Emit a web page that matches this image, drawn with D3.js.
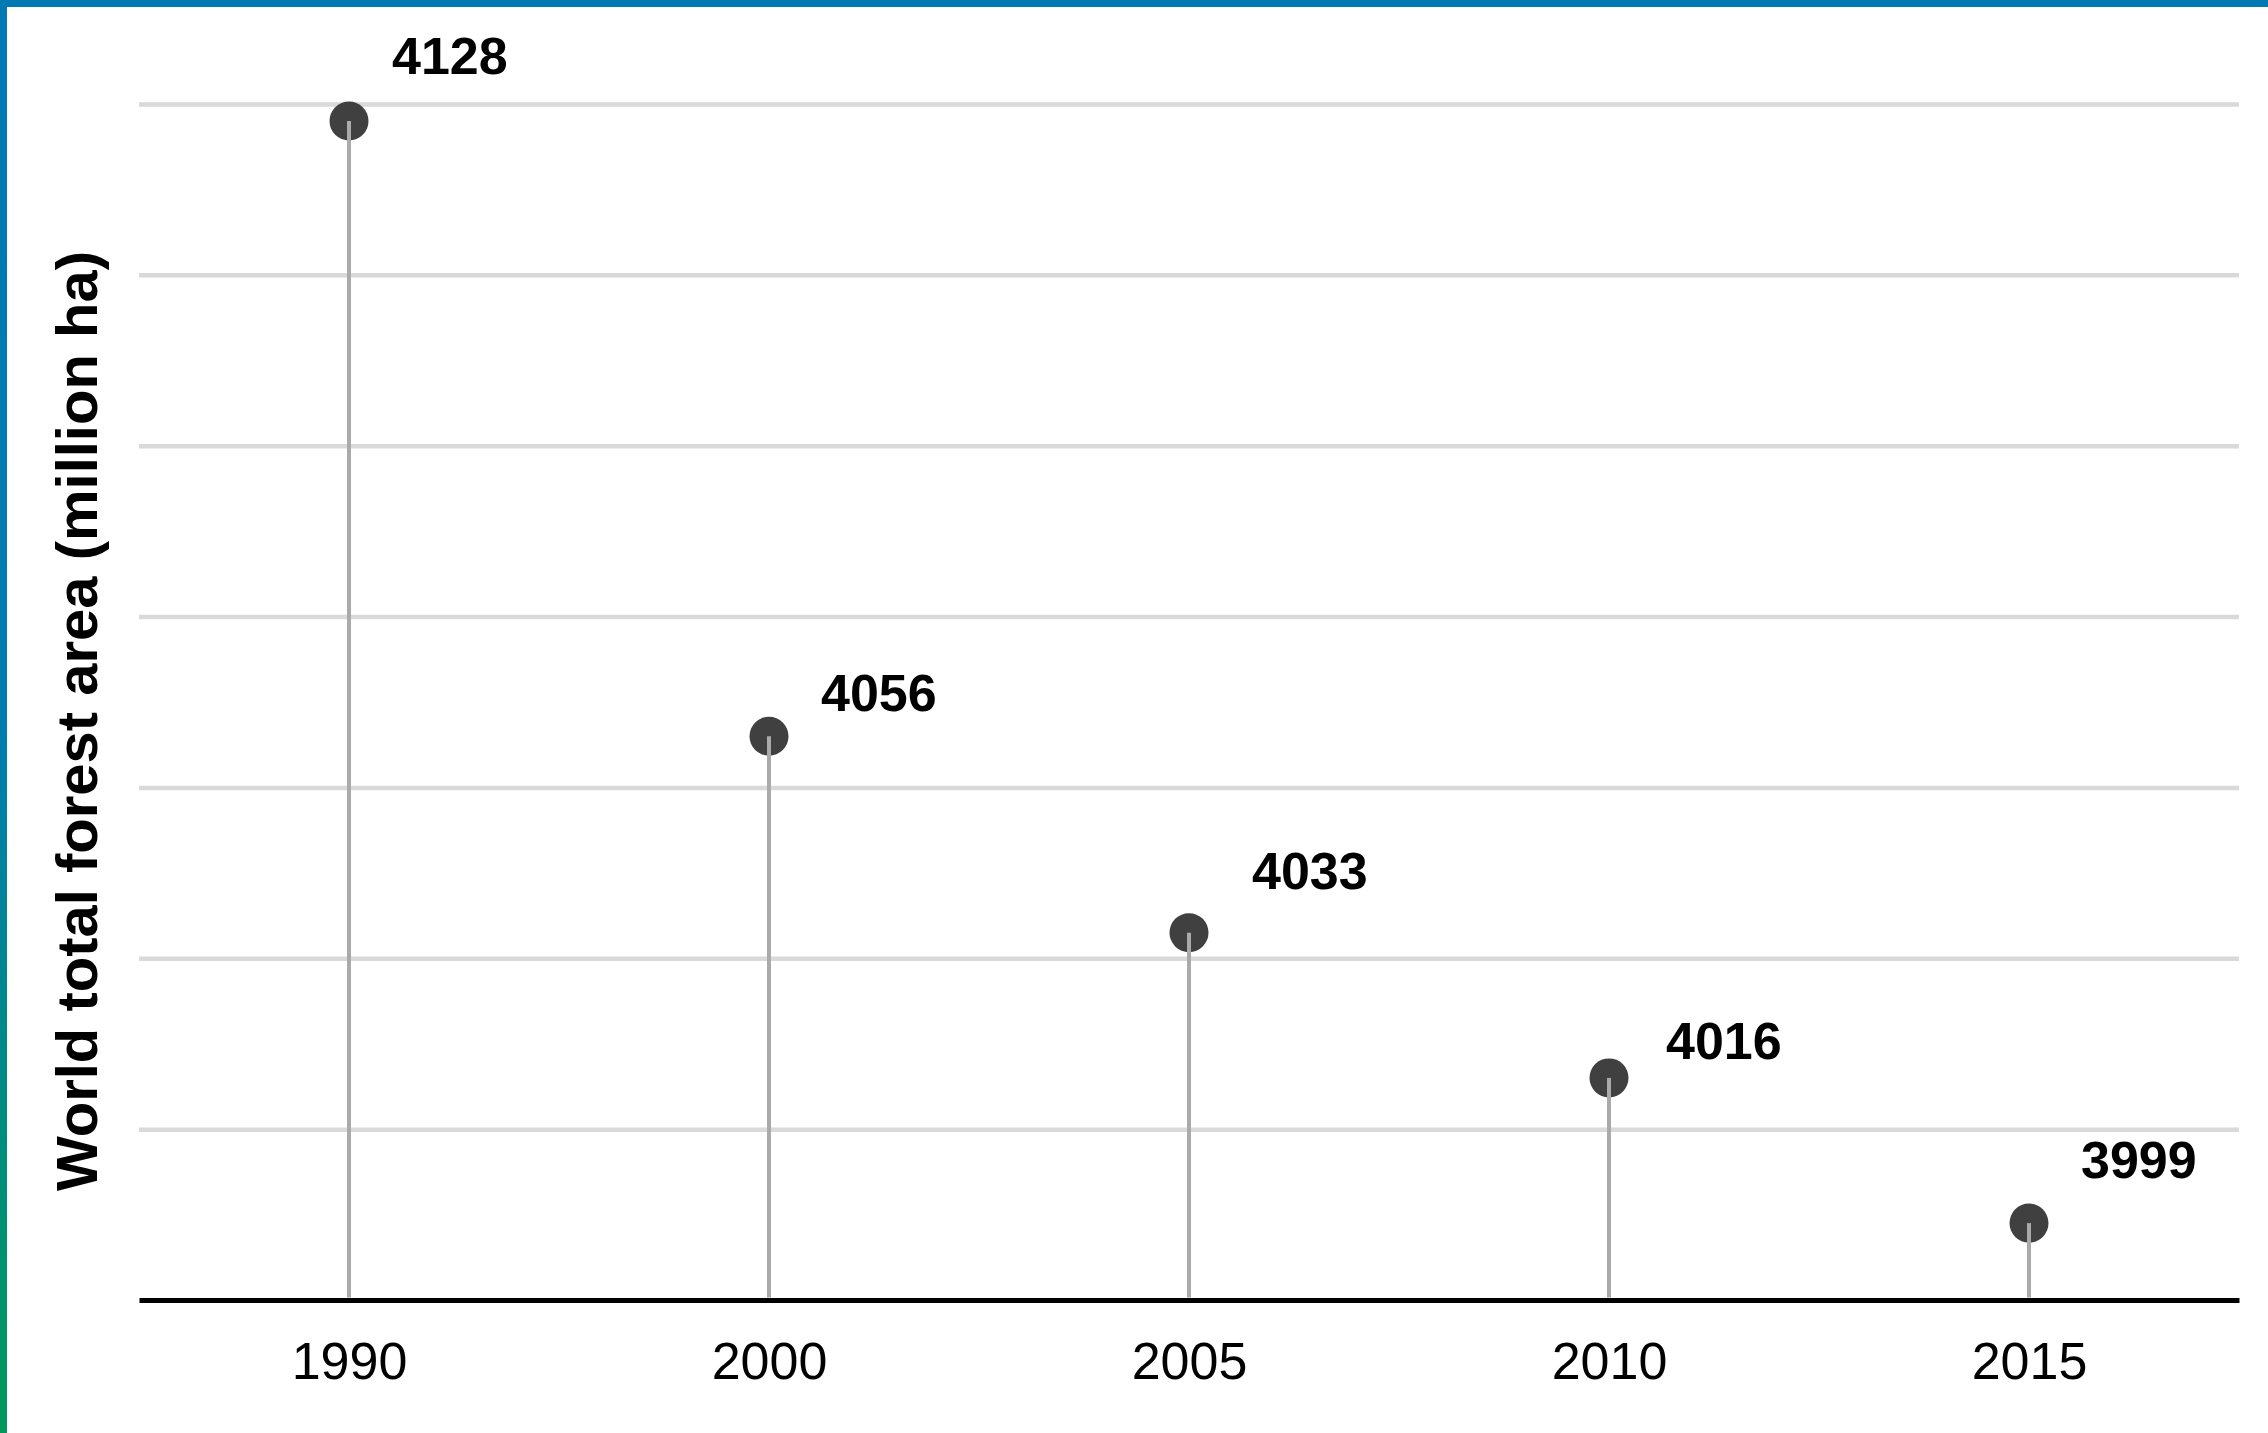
<!DOCTYPE html>
<html>
<head>
<meta charset="utf-8">
<script src="https://cdn.jsdelivr.net/npm/d3@7"></script>
<style>
  body { margin: 0; background: #fff; }
  svg { display: block; font-family: "Liberation Sans", Arial, sans-serif; }
</style>
</head>
<body>
<div id="chart"></div>
<script>
// data
const years = ["1990", "2000", "2005", "2010", "2015"];
const forestArea = [4128, 4056, 4033, 4016, 3999];
const yTicks = [4010, 4030, 4050, 4070, 4090, 4110, 4130];
const yTitle = "World total forest area (million ha)";

// label nudges (px from dot centre), they are not evenly placed in the original
const labelDx = [43, 52, 63, 57, 52];
const labelDy = [-47, -25, -44, -19, -45];

const W = 2268, H = 1433;
const plotLeft = 139, plotRight = 2239, plotBase = 1300, plotTop = 104;

const svg = d3.select("#chart").append("svg")
    .attr("width", W)
    .attr("height", H);

// frame: blue top bar + gradient left bar
const grad = svg.append("defs").append("linearGradient")
    .attr("id", "side")
    .attr("x1", 0).attr("y1", 0).attr("x2", 0).attr("y2", 1);
grad.append("stop").attr("offset", "0%").attr("stop-color", "#0179b3");
grad.append("stop").attr("offset", "50%").attr("stop-color", "#017caf");
grad.append("stop").attr("offset", "100%").attr("stop-color", "#00985b");

svg.append("rect").attr("x", 0).attr("y", 0).attr("width", W).attr("height", 7).attr("fill", "#0179b3");
svg.append("rect").attr("x", 0).attr("y", 0).attr("width", 7).attr("height", H).attr("fill", "url(#side)");

const x = d3.scalePoint()
    .domain(years)
    .range([plotLeft, plotRight])
    .padding(0.5);

const y = d3.scaleLinear()
    .domain([3990, 4130])
    .range([plotBase, plotTop]);

// gridlines
const grid = svg.append("g")
    .attr("transform", `translate(${plotLeft},0)`)
    .call(d3.axisLeft(y).tickValues(yTicks).tickSize(-(plotRight - plotLeft)).tickFormat(""));
grid.select(".domain").remove();
grid.selectAll("line")
    .attr("stroke", "#d9d9d9")
    .attr("stroke-width", 4.5);

// x axis
const xAxis = svg.append("g")
    .attr("transform", `translate(0,${plotBase})`)
    .call(d3.axisBottom(x).tickSize(0).tickSizeOuter(0).tickPadding(42));
xAxis.select(".domain")
    .attr("stroke", "#000")
    .attr("stroke-width", 5);
xAxis.selectAll("text")
    .attr("font-family", "Liberation Sans, Arial, sans-serif")
    .attr("font-size", 52)
    .attr("fill", "#000");

const pts = years.map((yr, i) => ({year: yr, value: forestArea[i], i: i}));

// dots
svg.append("g")
  .selectAll("circle")
  .data(pts)
  .enter()
  .append("circle")
  .attr("cx", d => x(d.year))
  .attr("cy", d => y(d.value))
  .attr("r", 19.5)
  .attr("fill", "#404040");

// stems (drawn over the dots like the original)
svg.append("g")
  .selectAll("line")
  .data(pts)
  .enter()
  .append("line")
  .attr("x1", d => x(d.year))
  .attr("x2", d => x(d.year))
  .attr("y1", d => y(d.value))
  .attr("y2", plotBase - 2.5)
  .attr("stroke", "#aaaaaa")
  .attr("stroke-width", 4);

// value labels
svg.append("g")
  .selectAll("text")
  .data(pts)
  .enter()
  .append("text")
  .attr("x", d => x(d.year) + labelDx[d.i])
  .attr("y", d => y(d.value) + labelDy[d.i])
  .attr("font-size", 52)
  .attr("font-weight", "bold")
  .attr("fill", "#000")
  .text(d => d.value);

// y title
svg.append("text")
  .attr("transform", "translate(97,721) rotate(-90)")
  .attr("text-anchor", "middle")
  .attr("font-size", 58)
  .attr("font-weight", "bold")
  .attr("fill", "#000")
  .text(yTitle);
</script>
</body>
</html>
